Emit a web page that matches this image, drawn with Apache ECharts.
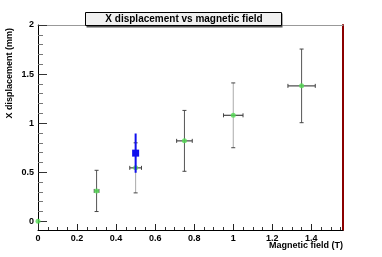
<!DOCTYPE html>
<html><head><meta charset="utf-8">
<script src="https://cdn.jsdelivr.net/npm/echarts@6/dist/echarts.min.js"></script>
<style>html,body{margin:0;padding:0;background:#fff}#c{width:382px;height:257px}</style>
</head><body><div id="c"></div>
<script>
// Data
var fieldT   = [0, 0.3, 0.5, 0.75, 1.0, 1.35];
var dispMm   = [0, 0.31, 0.545, 0.82, 1.08, 1.38];
var fieldErr = [0, 0.012, 0.03, 0.04, 0.05, 0.07];
var dispErr  = [0, 0.21, 0.255, 0.31, 0.33, 0.375];
var vBarColor = ['#555', '#555', '#aaa', '#555', '#aaa', '#555'];
var blueT   = [0.5];
var blueMm  = [0.695];
var blueErr = [0.2];
var xTicks = [0, 0.2, 0.4, 0.6, 0.8, 1, 1.2, 1.4];
var xMinorTicks = [0.05, 0.1, 0.15, 0.25, 0.3, 0.35, 0.45, 0.5, 0.55, 0.65, 0.7, 0.75, 0.85, 0.9, 0.95, 1.05, 1.1, 1.15, 1.25, 1.3, 1.35, 1.45, 1.5, 1.55];
var yTicks = [0, 0.5, 1, 1.5, 2];
var yMinorTicks = [0.1, 0.2, 0.3, 0.4, 0.6, 0.7, 0.8, 0.9, 1.1, 1.2, 1.3, 1.4, 1.6, 1.7, 1.8, 1.9];

var FONT = '"Liberation Sans", Arial, Helvetica, sans-serif';
var chart = echarts.init(document.getElementById('c'), null, {renderer: 'canvas'});

var X_MIN = 0, X_MAX = 1.562, Y_MIN = -0.088, Y_MAX = 2;

var errData = fieldT.map(function (x, i) { return [x, dispMm[i], fieldErr[i], dispErr[i], i]; });
var blueData = blueT.map(function (x, i) { return [x, blueMm[i], blueErr[i]]; });

var option = {
  animation: false,
  grid: {left: 38, right: 39, top: 25, bottom: 27, show: false},
  xAxis: [{
    type: 'value', min: X_MIN, max: X_MAX,
    axisLine: {show: true, onZero: false, lineStyle: {color: '#000', width: 1}},
    axisTick: {show: true, inside: true, length: 6, customValues: xTicks, lineStyle: {color: '#222'}},
    splitLine: {show: false},
    axisLabel: {
      margin: 4, color: '#000', fontSize: 9, fontWeight: 'bold', fontFamily: FONT,
      customValues: xTicks,
      formatter: function (v) { return String(+v.toFixed(2)); }
    }
  }, {
    type: 'value', position: 'bottom', offset: 0, min: X_MIN, max: X_MAX,
    axisLine: {show: false, onZero: false},
    axisTick: {show: true, inside: true, length: 3, customValues: xMinorTicks, lineStyle: {color: '#333'}},
    axisLabel: {show: false}, splitLine: {show: false}
  }, {
    type: 'value', position: 'top', min: X_MIN, max: X_MAX,
    axisLine: {show: true, onZero: false, lineStyle: {color: '#999', width: 1}},
    axisTick: {show: false}, axisLabel: {show: false}, splitLine: {show: false}
  }],
  yAxis: [{
    type: 'value', min: Y_MIN, max: Y_MAX,
    axisLine: {show: true, onZero: false, lineStyle: {color: '#000', width: 1}},
    axisTick: {show: true, inside: true, length: 9, customValues: yTicks, lineStyle: {color: '#333'}},
    splitLine: {show: false},
    axisLabel: {
      margin: 4, color: '#000', fontSize: 9, fontWeight: 'bold', fontFamily: FONT,
      customValues: yTicks,
      formatter: function (v) { return String(+v.toFixed(2)); }
    }
  }, {
    type: 'value', position: 'left', offset: 0, min: Y_MIN, max: Y_MAX,
    axisLine: {show: false, onZero: false},
    axisTick: {show: true, inside: true, length: 5, customValues: yMinorTicks, lineStyle: {color: '#777'}},
    axisLabel: {show: false}, splitLine: {show: false}
  }, {
    type: 'value', position: 'right', min: Y_MIN, max: Y_MAX,
    axisLine: {show: true, onZero: false, lineStyle: {color: '#8b0000', width: 2}},
    axisTick: {show: false}, axisLabel: {show: false}, splitLine: {show: false}
  }],
  series: [{
    type: 'custom',
    data: errData,
    z: 2,
    renderItem: function (params, api) {
      var x = api.value(0), y = api.value(1), ex = api.value(2), ey = api.value(3), idx = api.value(4);
      var children = [];
      if (ey > 0) {
        var t = api.coord([x, y + ey]), b = api.coord([x, y - ey]);
        children.push({type: 'line', shape: {x1: t[0], y1: t[1], x2: b[0], y2: b[1]}, style: {stroke: vBarColor[idx], lineWidth: 1}});
        children.push({type: 'line', shape: {x1: t[0] - 2, y1: t[1], x2: t[0] + 2, y2: t[1]}, style: {stroke: '#444', lineWidth: 1}});
        children.push({type: 'line', shape: {x1: b[0] - 2, y1: b[1], x2: b[0] + 2, y2: b[1]}, style: {stroke: '#444', lineWidth: 1}});
      }
      if (ex > 0) {
        var l = api.coord([x - ex, y]), r = api.coord([x + ex, y]);
        children.push({type: 'line', shape: {x1: l[0], y1: l[1], x2: r[0], y2: r[1]}, style: {stroke: '#555', lineWidth: 1.3}});
        children.push({type: 'line', shape: {x1: l[0], y1: l[1] - 2, x2: l[0], y2: l[1] + 2}, style: {stroke: '#444', lineWidth: 1}});
        children.push({type: 'line', shape: {x1: r[0], y1: r[1] - 2, x2: r[0], y2: r[1] + 2}, style: {stroke: '#444', lineWidth: 1}});
      }
      return {type: 'group', children: children};
    }
  }, {
    type: 'scatter',
    data: fieldT.map(function (x, i) { return [x, dispMm[i]]; }),
    symbol: 'circle', symbolSize: 5, z: 3,
    itemStyle: {color: '#55dd55'}
  }, {
    type: 'custom',
    data: blueData,
    z: 4,
    renderItem: function (params, api) {
      var x = api.value(0), y = api.value(1), ey = api.value(2);
      var t = api.coord([x, y + ey]), b = api.coord([x, y - ey]), c = api.coord([x, y]);
      return {type: 'group', children: [
        {type: 'line', shape: {x1: t[0], y1: t[1], x2: b[0], y2: b[1]}, style: {stroke: '#1010ee', lineWidth: 2}},
        {type: 'rect', shape: {x: c[0] - 3.5, y: c[1] - 3.5, width: 7, height: 7}, style: {fill: '#1010ee'}}
      ]};
    }
  }],
  graphic: [
    {type: 'rect', shape: {x: 86.5, y: 13.5, width: 196, height: 14}, style: {fill: '#555'}, z: 9},
    {type: 'rect', shape: {x: 85.5, y: 12.5, width: 196, height: 13}, style: {fill: '#f0f0f0', stroke: '#000', lineWidth: 1}, z: 10},
    {type: 'text', x: 184, y: 19.5, style: {text: 'X displacement vs magnetic field', fill: '#000', font: 'bold 10px ' + FONT, textAlign: 'center', textVerticalAlign: 'middle'}, z: 11},
    {type: 'text', x: 10, y: 28, rotation: Math.PI / 2, style: {text: 'X displacement (mm)', fill: '#000', font: 'bold 9px ' + FONT, textAlign: 'right', textVerticalAlign: 'middle'}, z: 11},
    {type: 'text', x: 343, y: 246, style: {text: 'Magnetic field (T)', fill: '#000', font: 'bold 9px ' + FONT, textAlign: 'right', textVerticalAlign: 'middle'}, z: 11}
  ]
};
chart.setOption(option);
</script>
</body></html>
